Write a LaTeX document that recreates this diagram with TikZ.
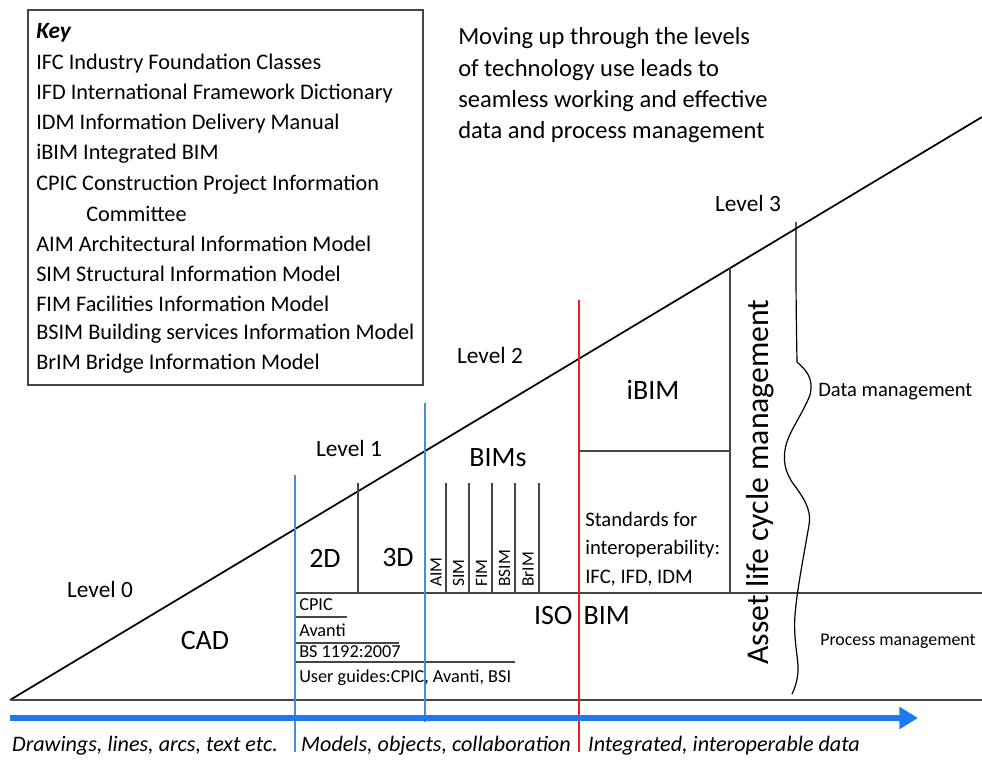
\documentclass[tikz,border=0pt]{standalone}
\usepackage{fontspec}
\setmainfont{Carlito}
\usetikzlibrary{arrows.meta}
\definecolor{lineblue}{RGB}{70,140,230}
\definecolor{arrowblue}{RGB}{30,120,240}
\definecolor{linered}{RGB}{235,30,30}
\definecolor{dgray}{RGB}{70,70,70}
\begin{document}
\begin{tikzpicture}[x=0.75pt,y=-0.75pt,
  thin line/.style={draw=dgray,line width=1pt},
  base line/.style={draw=dgray,line width=2pt},
  keytext/.style={anchor=west,inner sep=0pt,font=\fontsize{16.7}{19}\selectfont},
  toptext/.style={anchor=west,inner sep=0pt,font=\fontsize{18.4}{21}\selectfont},
  lvl/.style={inner sep=0pt,font=\fontsize{17.5}{20}\selectfont},
  big/.style={inner sep=0pt,font=\fontsize{21}{24}\selectfont},
  small/.style={anchor=west,inner sep=0pt,font=\fontsize{13.7}{16}\selectfont},
  rot/.style={rotate=90,anchor=west,inner sep=0pt,font=\fontsize{13}{15}\selectfont},
  bottomlbl/.style={inner sep=0pt,font=\itshape\fontsize{16.6}{19}\selectfont}]
\useasboundingbox (0,0) rectangle (982,763);
% key box
\draw[thin line,line width=1.2pt] (28,10) rectangle (423,385);
\node[keytext,font=\bfseries\itshape\fontsize{17.5}{19}\selectfont] (key) at (36,33) {Key};
\node[keytext] (k1) at (36,64) {IFC Industry Foundation Classes};
\node[keytext] (k2) at (36,94) {IFD International Framework Dictionary};
\node[keytext] (k3) at (36,124) {IDM Information Delivery Manual};
\node[keytext] (k4) at (36,154) {iBIM Integrated BIM};
\node[keytext] (k5) at (36,185) {CPIC Construction Project Information};
\node[keytext] (k5b) at (86,214) {Committee};
\node[keytext] (k6) at (36,244) {AIM Architectural Information Model};
\node[keytext] (k7) at (36,274) {SIM Structural Information Model};
\node[keytext] (k8) at (36,304) {FIM Facilities Information Model};
\node[keytext] (k9) at (36,334) {BSIM Building services Information Model};
\node[keytext] (k10) at (36,364) {BrIM Bridge Information Model};
% top text
\node[toptext] (t1) at (458,38) {Moving up through the levels};
\node[toptext] (t2) at (458,70) {of technology use leads to};
\node[toptext] (t3) at (458,101) {seamless working and effective};
\node[toptext] (t4) at (458,132) {data and process management};
% coordinates
\coordinate (o) at (10,700);
\coordinate (tr) at (982,117);
\coordinate (br) at (982,700);
% main lines
\draw[line width=1.3pt,black] (o) -- (tr);
\draw[base line] (o) -- (br);
\draw[thin line] (295,593) -- (982,593);
% level 1 dividers
\draw[thin line] (358,483) -- (358,593);
\foreach \x in {446,469,492,515,539} \draw[thin line] (\x,483) -- (\x,593);
% iBIM region
\draw[thin line] (730,268) -- (730,593);
\draw[thin line] (580,451) -- (730,451);
% underlines
\draw[thin line] (295,617) -- (347,617);
\draw[thin line] (295,643) -- (399,643);
\draw[thin line] (295,662) -- (515,662);
% coloured verticals
\draw[lineblue,line width=1.8pt] (295,475) -- (295,752);
\draw[lineblue,line width=1.8pt] (425,403) -- (425,722);
\draw[linered,line width=1.8pt] (579,300) -- (579,752);
% arrow
\draw[arrowblue,line width=5pt,-{Triangle[length=14pt,width=16pt]}] (10,718) -- (918,718);
% wavy brace
\draw[black,line width=0.9pt] (796,222) .. controls (796,300) .. (797,362)
  .. controls (806,370) and (814,378) .. (810,395)
  .. controls (802,415) and (790,430) .. (786,445)
  .. controls (782,462) and (786,472) .. (792,482)
  .. controls (802,496) and (812,508) .. (809,525)
  .. controls (803,560) and (797,590) .. (795,615)
  .. controls (793,640) and (799,660) .. (798,672)
  .. controls (797,683) and (794,690) .. (792,694);
% labels
\node[lvl] (l0) at (100,589) {Level 0};
\node[lvl] (l1) at (349,448) {Level 1};
\node[lvl] (l2) at (490,355) {Level 2};
\node[lvl] (l3) at (748,203) {Level 3};
\node[big] (cad) at (205,641) {CAD};
\node[big] (d2) at (325,558) {2D};
\node[big] (d3) at (398,558) {3D};
\node[big] (bims) at (498,458) {BIMs};
\node[big] (ibim) at (653,390) {iBIM};
\node[big] (iso) at (582,616) {ISO\hspace{0.4em}BIM};
\node[rot] (aim) at (436,587) {AIM};
\node[rot] (sim) at (458.5,587) {SIM};
\node[rot] (fim) at (481.5,587) {FIM};
\node[rot] (bsim) at (504.5,587) {BSIM};
\node[rot] (brim) at (528,587) {BrIM};
\node[small] (cpic) at (299,605) {CPIC};
\node[small] (avanti) at (299,630) {Avanti};
\node[small] (bs) at (299,652) {BS 1192:2007};
\node[small] (ug) at (299,678) {User guides:CPIC, Avanti, BSI};
\node[anchor=west,inner sep=0pt,font=\fontsize{15.5}{21.4}\selectfont,align=left] (std) at (585,549)
  {Standards for\\interoperability:\\IFC, IFD, IDM};
\node[rotate=90,inner sep=0pt,font=\fontsize{23.8}{26}\selectfont] (alcm) at (760,482) {Asset life cycle management};
\node[anchor=west,inner sep=0pt,font=\fontsize{15.4}{18}\selectfont] (dm) at (818,392) {Data management};
\node[anchor=west,inner sep=0pt,font=\fontsize{13.4}{16}\selectfont] (pm) at (820,641) {Process management};
\node[bottomlbl] (b1) at (145,746) {Drawings, lines, arcs, text etc.};
\node[bottomlbl] (b2) at (436,746) {Models, objects, collaboration};
\node[bottomlbl] (b3) at (724,746) {Integrated, interoperable data};
\end{tikzpicture}
\end{document}
